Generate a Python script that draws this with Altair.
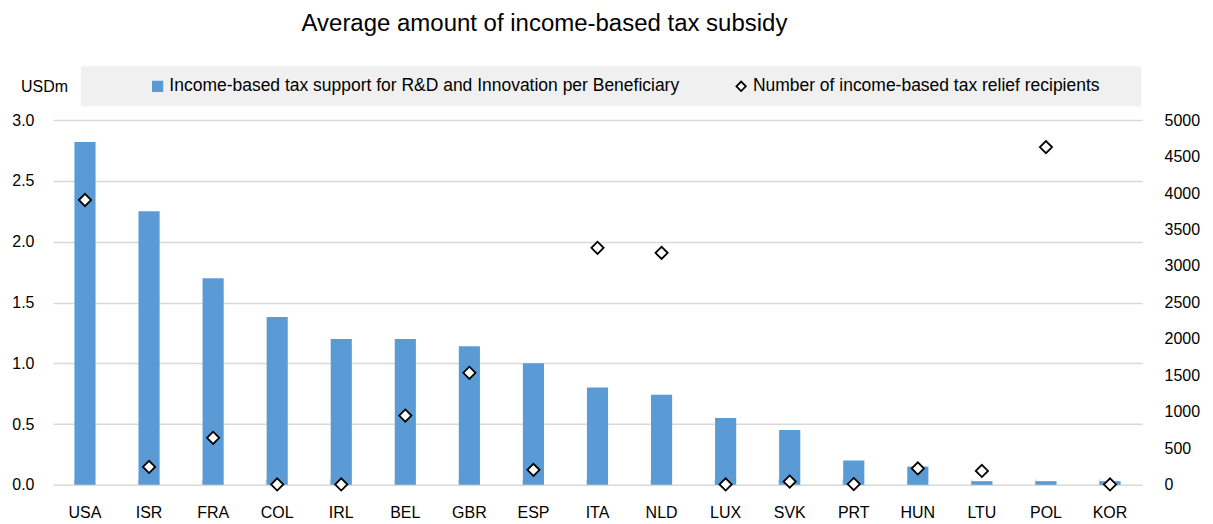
import altair as alt
import pandas as pd

countries = ["USA", "ISR", "FRA", "COL", "IRL", "BEL", "GBR", "ESP", "ITA",
             "NLD", "LUX", "SVK", "PRT", "HUN", "LTU", "POL", "KOR"]
support_per_beneficiary = [2.82, 2.25, 1.70, 1.38, 1.20, 1.20, 1.14, 1.00, 0.80,
                           0.74, 0.55, 0.45, 0.20, 0.15, 0.03, 0.03, 0.03]
recipients = [3905, 245, 645, 5, 5, 950, 1535, 205, 3250,
              3180, 5, 45, 10, 225, 190, 4630, 5]

left_ticks = [0.0, 0.5, 1.0, 1.5, 2.0, 2.5, 3.0]
right_ticks = [0, 500, 1000, 1500, 2000, 2500, 3000, 3500, 4000, 4500, 5000]

S1 = "Income-based tax support for R&D and Innovation per Beneficiary"
S2 = "Number of income-based tax relief recipients"

df = pd.DataFrame({
    "country": countries,
    "support": support_per_beneficiary,
    "recipients": recipients,
    "s1": [S1] * len(countries),
    "s2": [S2] * len(countries),
})

FONT = "Liberation Sans"
BLUE = "#5B9BD5"
AX = 16

x_enc = alt.X(
    "country:N", sort=countries, title=None,
    scale=alt.Scale(paddingInner=0.67, paddingOuter=0.335),
    axis=alt.Axis(labelAngle=0, domain=False, ticks=True, tickSize=6,
                  tickColor="#d9d9d9", tickWidth=1.5, offset=-6,
                  bandPosition=0, labelPadding=20, labelFont=FONT,
                  labelFontSize=AX, labelColor="#000000"),
)

domain = [S1, S2]
fill_scale = alt.Scale(domain=domain, range=[BLUE, "white"])
shape_scale = alt.Scale(domain=domain, range=["square", "diamond"])
stroke_scale = alt.Scale(domain=domain, range=[BLUE, "black"])

legend = alt.Legend(
    title=None, orient="none", legendX=96, legendY=-43, direction="horizontal",
    labelFont=FONT, labelFontSize=17.5, labelColor="#000000", symbolSize=90,
    symbolStrokeWidth=1.8, columnPadding=52, labelOffset=3, padding=0,
    labelLimit=800,
)

bars = alt.Chart(df).mark_bar().encode(
    x=x_enc,
    y=alt.Y("support:Q", scale=alt.Scale(domain=[0, 3], nice=False),
            axis=alt.Axis(values=left_ticks, format=".1f", domain=False,
                          ticks=False, gridColor="#d9d9d9", gridWidth=1.5,
                          labelPadding=19, labelFont=FONT, labelFontSize=AX,
                          labelColor="#000000", title="USDm", titleAngle=0,
                          titleAlign="center", titleBaseline="middle",
                          titleX=-9, titleY=-34, titleFont=FONT,
                          titleFontSize=AX, titleFontWeight="normal",
                          titleColor="#000000")),
    fill=alt.Fill("s1:N", scale=fill_scale, legend=legend),
)

points = alt.Chart(df).mark_point(filled=True, size=150, strokeWidth=1.8,
                                  opacity=1).encode(
    x=x_enc,
    y=alt.Y("recipients:Q", scale=alt.Scale(domain=[0, 5000], nice=False),
            axis=alt.Axis(orient="right", values=right_ticks, format="d",
                          grid=False, domain=False, ticks=False,
                          labelPadding=22, labelFont=FONT, labelFontSize=AX,
                          labelColor="#000000", title=None)),
    fill=alt.Fill("s2:N", scale=fill_scale, legend=legend),
    shape=alt.Shape("s2:N", scale=shape_scale, legend=legend),
    stroke=alt.Stroke("s2:N", scale=stroke_scale, legend=legend),
)

legend_bg = alt.Chart(pd.DataFrame({"k": [0]})).mark_rect(color="#f0f0f0").encode(
    x=alt.value(28), x2=alt.value(1089), y=alt.value(-54), y2=alt.value(-14)
)

chart = alt.layer(legend_bg, bars, points).resolve_scale(
    y="independent"
).properties(
    width=1090, height=365,
    padding={"left": 3, "top": 4, "right": 5, "bottom": 5},
    title=alt.TitleParams(
        "Average amount of income-based tax subsidy", anchor="start", dx=290,
        font="Liberation Sans", fontSize=24, fontWeight="normal",
        color="#000000", offset=30,
    ),
).configure_view(stroke=None)

chart.save("out.html", embed_options={"renderer": "svg", "actions": False})
